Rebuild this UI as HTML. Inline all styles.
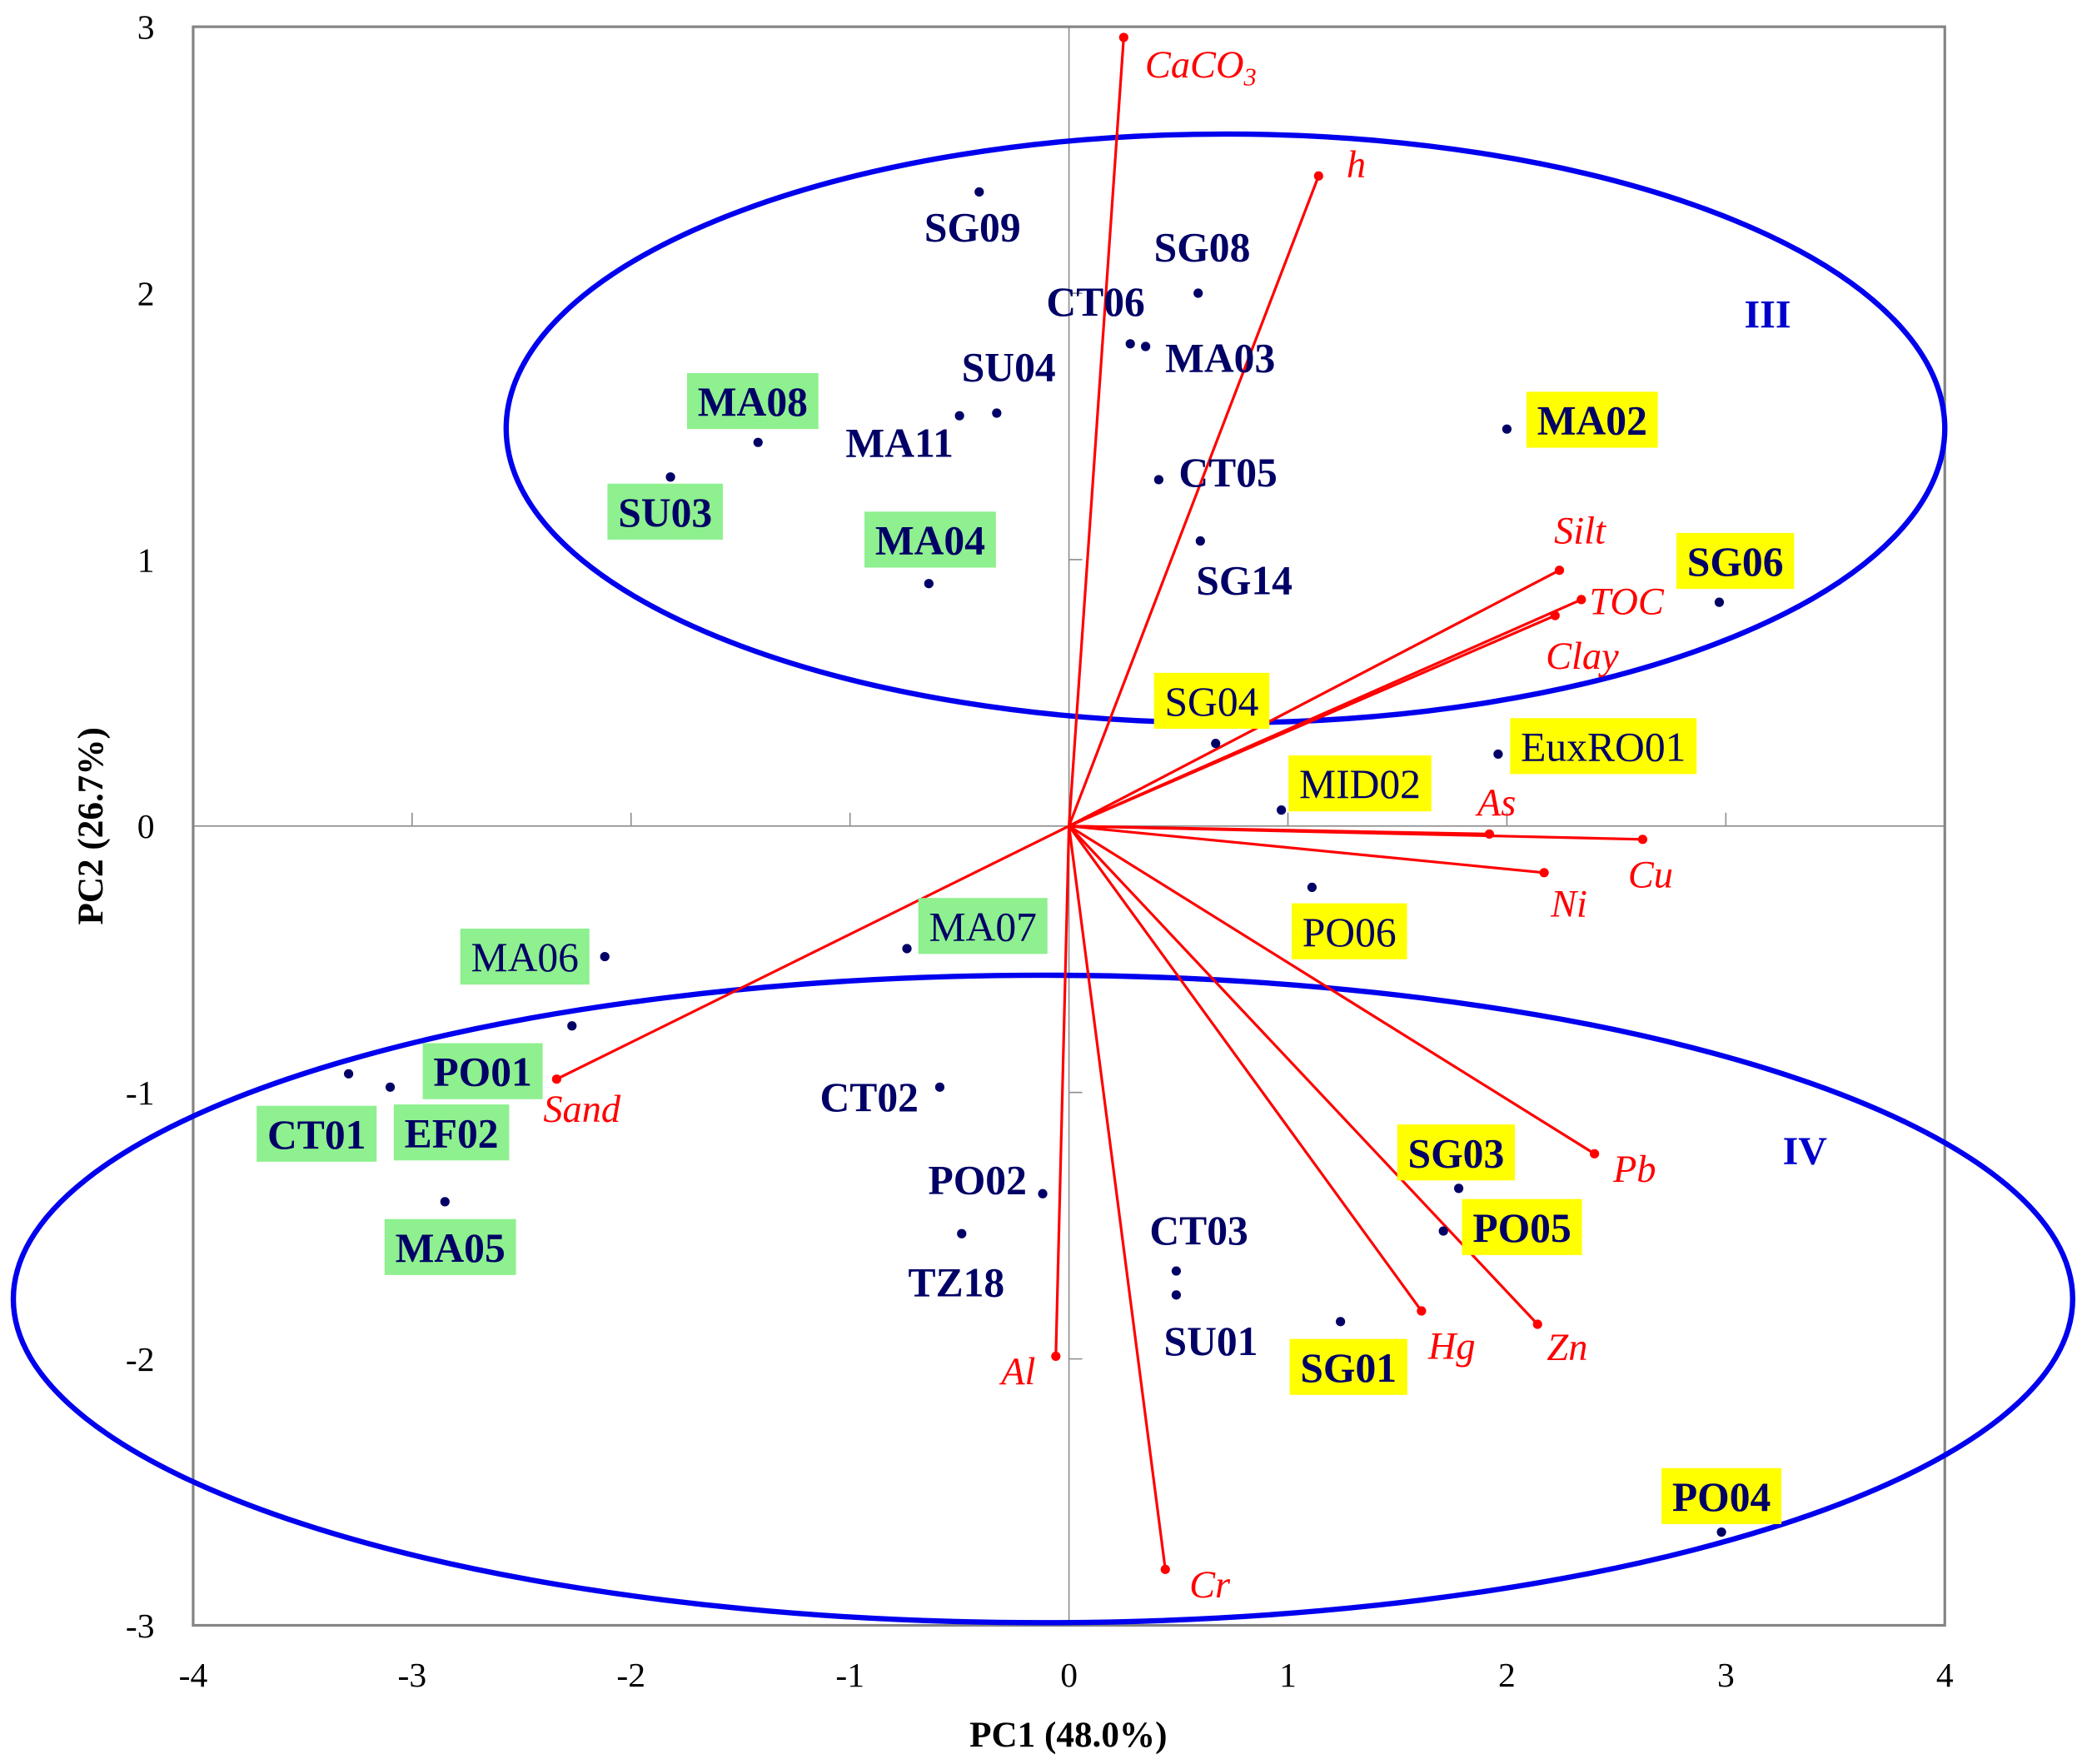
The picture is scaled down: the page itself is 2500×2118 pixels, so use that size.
<!DOCTYPE html>
<html><head><meta charset="utf-8"><style>
html,body{margin:0;padding:0;background:#fff;}
svg{display:block;}
text{font-family:"Liberation Serif","DejaVu Serif",serif;}
</style></head><body>
<svg id="chart" width="2500" height="2118" viewBox="0 0 1563 1324" xmlns="http://www.w3.org/2000/svg">
<g id="g-frame"></g><g id="g-ell"></g><g id="g-vec"></g><g id="g-pts"></g><g id="g-txt"></g>
</svg>
<script>
// ---- data ----
const sampleNames = ["SG09","SG08","CT06","MA03","SU04","MA11","MA08","SU03","MA04","CT05","SG14","MA02","SG06","SG04","EuxRO01","MID02","PO06","MA07","MA06","PO01","CT01","EF02","MA05","CT02","PO02","TZ18","CT03","SU01","SG01","SG03","PO05","PO04"];
const sampleX = [-0.41,0.59,0.28,0.35,-0.33,-0.50,-1.42,-1.82,-0.64,0.41,0.60,2.00,2.97,0.67,1.96,0.97,1.11,-0.74,-2.12,-2.27,-3.29,-3.10,-2.85,-0.59,-0.12,-0.49,0.49,0.49,1.24,1.78,1.71,2.98];
const sampleY = [2.38,2.00,1.81,1.80,1.55,1.54,1.44,1.31,0.91,1.30,1.07,1.49,0.84,0.31,0.27,0.06,-0.23,-0.46,-0.49,-0.75,-0.93,-0.98,-1.41,-0.98,-1.38,-1.53,-1.67,-1.76,-1.86,-1.36,-1.52,-2.65];
const sampleGroup = ["","","","","","","g","g","g","","","y","y","y","y","y","y","g","g","g","g","g","g","","","","","","y","y","y","y"];
const sampleBold = [1,1,1,1,1,1,1,1,1,1,1,1,1,0,0,0,0,0,0,1,1,1,1,1,1,1,1,1,1,1,1,1];
const varNames = ["CaCO3","h","Silt","TOC","Clay","As","Cu","Ni","Pb","Zn","Hg","Cr","Al","Sand"];
const varX = [0.25,1.14,2.24,2.34,2.22,1.92,2.62,2.17,2.40,2.14,1.61,0.44,-0.06,-2.34];
const varY = [2.96,2.44,0.96,0.85,0.79,-0.03,-0.05,-0.175,-1.23,-1.87,-1.82,-2.79,-1.99,-0.95];
const xTicks = [-4,-3,-2,-1,0,1,2,3,4];
const yTicks = [3,2,1,0,-1,-2,-3];
// ---- layout (label offsets in px) ----
const sampleOff = [[-5,37],[3,-24],[-26,-21],[56,19],[9,-24],[-45,31],[-4,-20],[-4,37],[1,-22],[52,5],[33,40],[64,4],[12,-20],[-3,-21],[79,5],[59,-9],[28,44],[57,-6],[-60,11],[-67,45],[-24,56],[46,45],[4,45],[-53,18],[-49,0],[-4,47],[17,-20],[26,45],[6,45],[-2,-16],[59,8],[0,-16]];
const varOff = [[16,30],[21,1],[-4,-20],[6,11],[-7,40],[-9,-14],[-11,36],[5,33],[14,21],[7,27],[5,36],[18,21],[-41,21],[-10,32]];

const X0=145,X1=1460,Y0=1220,Y1=20;
const sx=v=>X0+(v+4)/8*(X1-X0);
const sy=v=>Y0-(v+3)/6*(Y0-Y1);
const NS="http://www.w3.org/2000/svg";
function mk(tag,attrs,parent){const e=document.createElementNS(NS,tag);for(const k in attrs)e.setAttribute(k,attrs[k]);parent.appendChild(e);return e;}
const gF=document.getElementById('g-frame'),gE=document.getElementById('g-ell'),gV=document.getElementById('g-vec'),gP=document.getElementById('g-pts'),gT=document.getElementById('g-txt');

let l=mk('line',{x1:sx(0),x2:sx(0),y1:Y1,y2:Y0,stroke:'#8c8c8c','stroke-width':1},gF);

l=mk('line',{x1:X0,x2:X1,y1:sy(0),y2:sy(0),stroke:'#8c8c8c','stroke-width':1},gF);

xTicks.forEach(t=>{
  if(t>-4&&t<4&&t!==0){const tk=mk('line',{x1:sx(t),x2:sx(t),y1:sy(0)-10,y2:sy(0),stroke:'#8c8c8c','stroke-width':1},gF);
  }
  const tx=mk('text',{x:sx(t),y:1266,'text-anchor':'middle','font-size':26,fill:'#000'},gF);tx.textContent=t;
  
});
yTicks.forEach(t=>{
  if(t>-3&&t<3&&t!==0){const tk=mk('line',{x1:sx(0),x2:sx(0)+10,y1:sy(t),y2:sy(t),stroke:'#8c8c8c','stroke-width':1},gF);
  }
  const tx=mk('text',{x:116,y:sy(t)+9,'text-anchor':'end','font-size':26,fill:'#000'},gF);tx.textContent=t;
  
});
const fr=mk('rect',{x:X0,y:Y1,width:X1-X0,height:Y0-Y1,fill:'none',stroke:'#848484','stroke-width':2},gF);

let at=mk('text',{x:802,y:1311,'text-anchor':'middle','font-size':27,'font-weight':'bold',fill:'#000'},gF);at.textContent='PC1 (48.0%)';

at=mk('text',{x:0,y:0,'text-anchor':'middle','font-size':27,'font-weight':'bold',fill:'#000',transform:'translate(77,620) rotate(-90)'},gF);at.textContent='PC2 (26.7%)';


let el=mk('ellipse',{cx:920,cy:321.5,rx:540,ry:221,fill:'none',stroke:'#0000ee','stroke-width':4},gE);

el=mk('ellipse',{cx:783,cy:975,rx:773,ry:243,fill:'none',stroke:'#0000ee','stroke-width':4},gE);

let gl=mk('text',{x:1327,y:246,'text-anchor':'middle','font-size':30,'font-weight':'bold',fill:'#0000cc'},gT);gl.textContent='III';

gl=mk('text',{x:1355,y:874,'text-anchor':'middle','font-size':30,'font-weight':'bold',fill:'#0000cc'},gT);gl.textContent='IV';


varNames.forEach((n,i)=>{
  const x=sx(varX[i]),y=sy(varY[i]);
  const ln=mk('line',{x1:sx(0),y1:sy(0),x2:x,y2:y,stroke:'#ff0000','stroke-width':2},gV);
  
  
  const c=mk('circle',{cx:x,cy:y,r:3.5,fill:'#ff0000'},gV);
  
  
  const t=mk('text',{x:x+varOff[i][0],y:y+varOff[i][1],'font-size':29,'font-style':'italic',fill:'#ff0000'},gT);
  if(n==='CaCO3'){t.textContent='CaCO';const s=mk('tspan',{'font-size':19,dy:6},t);s.textContent='3';}
  else t.textContent=n;
  
  
});

sampleNames.forEach((n,i)=>{
  const x=sx(sampleX[i]),y=sy(sampleY[i]);
  const c=mk('circle',{cx:x,cy:y,r:3.5,fill:'#000066'},gP);
  
  
  const lx=x+sampleOff[i][0],ly=y+sampleOff[i][1];
  const grp=sampleGroup[i];
  let bg=null;
  if(grp){bg=mk('rect',{fill:grp==='g'?'#8ef08e':'#ffff00'},gT);
    
    }
  const t=mk('text',{x:lx,y:ly,'text-anchor':'middle','font-size':31,'font-weight':sampleBold[i]?'bold':'normal',fill:'#000066'},gT);
  t.textContent=n;
  
  
  if(bg){const w=t.getComputedTextLength()+16;
    bg.setAttribute('x',lx-w/2);bg.setAttribute('y',ly-32);bg.setAttribute('width',w);bg.setAttribute('height',42);}
});
</script>
</body></html>
